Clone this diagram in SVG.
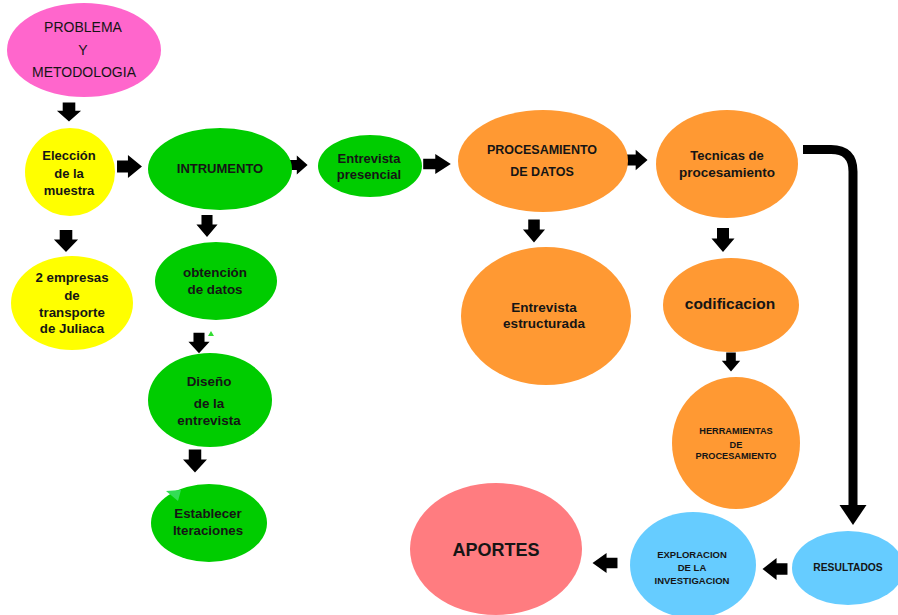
<svg xmlns="http://www.w3.org/2000/svg" xmlns:xlink="http://www.w3.org/1999/xlink" width="898" height="615" viewBox="0 0 898 615">
<defs>
<style>
.t{font-family:"Liberation Sans",Arial,sans-serif;font-weight:bold;fill:#151515;text-anchor:middle;dominant-baseline:central}
.n{font-weight:normal}
.pink{fill:#ff66cc}.yel{fill:#ffff00}.grn{fill:#00cc00}.org{fill:#ff9933}.blu{fill:#66ccff}.sal{fill:#ff7c80}
.arr{fill:#000}
</style>
<polygon id="ar" points="-12,-6 -1.5,-6 -1.5,-11.5 12,0 -1.5,11.5 -1.5,6 -12,6"/>
</defs>
<rect width="898" height="615" fill="#fff"/>

<g id="connectors" class="arr">
<use xlink:href="#ar" transform="translate(69,112) rotate(90) scale(0.8,1.05)"/>
<use xlink:href="#ar" transform="translate(129.5,166.5) scale(1.04,1)"/>
<use xlink:href="#ar" transform="translate(298,165) scale(0.8,0.82)"/>
<use xlink:href="#ar" transform="translate(437,164) scale(1.15,0.86)"/>
<use xlink:href="#ar" transform="translate(637,160) scale(0.88,0.9)"/>
<use xlink:href="#ar" transform="translate(534,231) rotate(90) scale(0.95,0.96)"/>
<use xlink:href="#ar" transform="translate(723,240) rotate(90) scale(1,1)"/>
<use xlink:href="#ar" transform="translate(731,362) rotate(90) scale(0.8,0.8)"/>
<use xlink:href="#ar" transform="translate(775,569) rotate(180) scale(1.04,0.96)"/>
<use xlink:href="#ar" transform="translate(605,563) rotate(180) scale(1.04,0.88)"/>
<use xlink:href="#ar" transform="translate(66,241) rotate(90) scale(0.92,1.05)"/>
<use xlink:href="#ar" transform="translate(207,226) rotate(90) scale(0.92,0.92)"/>
<use xlink:href="#ar" transform="translate(199,343) rotate(90) scale(0.85,0.92)"/>
<use xlink:href="#ar" transform="translate(195,461) rotate(90) scale(0.96,1.04)"/>
<path d="M803,149.5 H831 Q853,149.5 853,171.5 V507" fill="none" stroke="#000" stroke-width="9"/>
<polygon points="839.5,505 866.5,505 853,525"/>
</g>

<g id="problema">
<ellipse class="pink" cx="84" cy="50" rx="77" ry="47"/>
<text class="t n" x="83" y="27" font-size="14">PROBLEMA</text>
<text class="t n" x="83" y="50" font-size="14">Y</text>
<text class="t n" x="84" y="72" font-size="14">METODOLOGIA</text>
</g>

<g id="eleccion">
<ellipse class="yel" cx="70" cy="172" rx="45" ry="44"/>
<text class="t" x="69" y="155" font-size="13">Elección</text>
<text class="t" x="69" y="173" font-size="13">de la</text>
<text class="t" x="69" y="190" font-size="13">muestra</text>
</g>

<g id="empresas">
<ellipse class="yel" cx="72" cy="303" rx="61" ry="47"/>
<text class="t" x="72" y="277" font-size="13.3">2 empresas</text>
<text class="t" x="72" y="295" font-size="13.3">de</text>
<text class="t" x="72" y="312" font-size="13.3">transporte</text>
<text class="t" x="72" y="328" font-size="13.3">de Juliaca</text>
</g>

<g id="instrumento">
<ellipse class="grn" cx="220" cy="169" rx="72" ry="41"/>
<text class="t" x="220" y="168" font-size="13">INTRUMENTO</text>
</g>

<g id="obtencion">
<ellipse class="grn" cx="216" cy="281" rx="61" ry="39"/>
<text class="t" x="215" y="272" font-size="13.4">obtención</text>
<text class="t" x="215" y="289" font-size="13.4">de datos</text>
</g>

<g id="diseno">
<ellipse class="grn" cx="210" cy="400" rx="62" ry="47"/>
<polygon points="208,336 214,336 211,331" fill="#33dd33"/>
<text class="t" x="209" y="381" font-size="13.4">Diseño</text>
<text class="t" x="209" y="403" font-size="13.4">de la</text>
<text class="t" x="209" y="420" font-size="13.4">entrevista</text>
</g>

<g id="iteraciones">
<ellipse class="grn" cx="209" cy="523" rx="58" ry="39"/>
<polygon points="166,491 181,490 178,501" fill="#33dd55"/>
<text class="t" x="208" y="513" font-size="13.3">Establecer</text>
<text class="t" x="208" y="530" font-size="13.3">Iteraciones</text>
</g>

<g id="presencial">
<ellipse class="grn" cx="370" cy="166" rx="52" ry="31"/>
<text class="t" x="369" y="158" font-size="13">Entrevista</text>
<text class="t" x="369" y="174" font-size="13">presencial</text>
</g>

<g id="procesamiento">
<ellipse class="org" cx="543" cy="161" rx="85" ry="51"/>
<text class="t" x="542" y="150" font-size="12.5">PROCESAMIENTO</text>
<text class="t" x="542" y="172" font-size="12.5">DE DATOS</text>
</g>

<g id="estructurada">
<ellipse class="org" cx="546" cy="316" rx="85" ry="69"/>
<text class="t" x="544" y="307" font-size="13.5">Entrevista</text>
<text class="t" x="544" y="323" font-size="13.5">estructurada</text>
</g>

<g id="tecnicas">
<ellipse class="org" cx="727" cy="164" rx="71" ry="54"/>
<text class="t" x="727" y="155" font-size="13">Tecnicas de</text>
<text class="t" x="727" y="172" font-size="13.5">procesamiento</text>
</g>

<g id="codificacion">
<ellipse class="org" cx="731" cy="305" rx="68" ry="47"/>
<text class="t" x="730" y="303" font-size="15.5">codificacion</text>
</g>

<g id="herramientas">
<ellipse class="org" cx="736" cy="443" rx="64" ry="66"/>
<text class="t" x="736" y="431" font-size="9.2">HERRAMIENTAS</text>
<text class="t" x="736" y="445" font-size="9.2">DE</text>
<text class="t" x="736" y="456" font-size="9.2">PROCESAMIENTO</text>
</g>

<g id="resultados">
<ellipse class="blu" cx="848" cy="568" rx="56" ry="37"/>
<text class="t" x="848" y="567" font-size="10.3">RESULTADOS</text>
</g>

<g id="exploracion">
<ellipse class="blu" cx="693" cy="565" rx="63" ry="53"/>
<text class="t" x="692" y="554" font-size="9.5">EXPLORACION</text>
<text class="t" x="692" y="567" font-size="9.5">DE LA</text>
<text class="t" x="692" y="580" font-size="9.5">INVESTIGACION</text>
</g>

<g id="aportes">
<ellipse class="sal" cx="496" cy="549" rx="86" ry="66"/>
<text class="t" x="496" y="550" font-size="18">APORTES</text>
</g>
</svg>
